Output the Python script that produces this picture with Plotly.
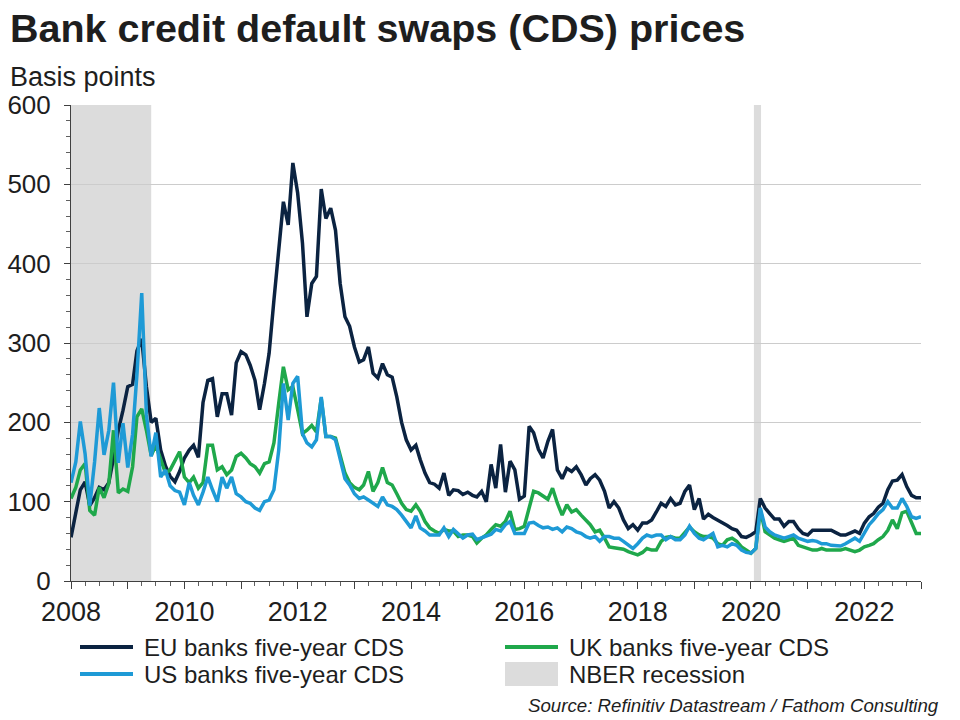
import pandas as pd
import plotly.graph_objects as go

# ---------------- data (monthly, Jan 2008 - Jan 2023, basis points) ----------------
start_month = "2008-01-01"

eu_cds = [
    55, 85, 115, 125, 95, 105, 118, 115, 124, 155, 190, 215, 245, 248, 290, 305, 245, 200, 205, 165,
    145, 132, 125, 138, 155, 165, 171, 156, 225, 253, 255, 207, 236, 236, 209, 275,
    289, 285, 272, 253, 216, 249, 287, 354, 417, 478, 449, 527, 489, 426, 333, 375, 384, 494, 457, 470,
    442, 375, 333, 321, 295, 276, 279, 295, 262, 256, 274, 260, 257, 232, 200,
    178, 165, 171, 153, 136, 124, 122, 117, 136, 108, 115, 114, 109, 112, 108, 106, 113, 100, 147, 117,
    172, 112, 151, 140, 103, 107, 195, 187, 166, 155, 176, 191, 140,
    129, 142, 138, 144, 134, 121, 129, 134, 127, 113, 92, 100, 92, 77, 66, 71, 64, 73, 73, 77,
    87, 98, 94, 104, 96, 98, 113, 121, 90, 104, 78, 84, 80, 77, 73, 70, 66,
    64, 56, 55, 58, 62, 104, 92, 85, 78, 78, 69, 75, 75, 66, 60, 58, 64, 64, 64, 64,
    64, 61, 58, 58, 60, 63, 60, 73, 81, 85, 93, 98, 115, 126, 127, 134, 119, 108, 105, 105,
]

uk_cds = [
    104, 118, 140, 148, 89, 83, 118, 105, 123, 190, 111, 116, 113, 144, 207, 217, 190, 158, 171, 152,
    136, 140, 152, 163, 131, 124, 131, 117, 124, 171, 171, 140, 144, 134, 140, 157,
    161, 155, 148, 144, 136, 148, 150, 174, 224, 270, 241, 245, 216, 186, 190, 196, 188, 230, 182, 182,
    180, 157, 136, 124, 118, 115, 121, 138, 113, 124, 143, 124, 121, 110, 98,
    90, 88, 96, 88, 75, 67, 63, 60, 65, 63, 63, 56, 58, 58, 56, 48, 54, 58, 65, 71,
    69, 75, 88, 65, 66, 69, 92, 113, 111, 107, 103, 117, 98,
    83, 96, 87, 90, 83, 77, 71, 62, 64, 54, 43, 42, 41, 40, 37, 35, 33, 36, 41, 39,
    39, 50, 55, 56, 54, 54, 62, 68, 62, 58, 56, 56, 54, 47, 45, 52, 54,
    50, 43, 39, 35, 41, 90, 62, 58, 54, 52, 50, 52, 54, 45, 43, 41, 39, 39, 41, 39,
    39, 38, 39, 41, 39, 37, 39, 43, 45, 47, 52, 56, 64, 77, 66, 86, 88, 75, 60, 60,
]

us_cds = [
    124, 150, 201, 160, 95, 150, 218, 159, 190, 250, 149, 199, 143, 185, 260, 363, 210, 157, 187, 131,
    140, 120, 114, 112, 96, 124, 108, 96, 112, 131, 115, 100, 131, 117, 131, 110,
    106, 100, 98, 92, 89, 100, 102, 115, 165, 249, 203, 249, 258, 186, 174, 169, 178, 232, 182, 182,
    178, 153, 129, 121, 110, 104, 106, 102, 98, 94, 106, 96, 94, 90, 83,
    75, 67, 82, 67, 63, 58, 58, 58, 67, 56, 65, 60, 54, 58, 59, 52, 54, 56, 59, 65,
    63, 71, 75, 60, 60, 60, 73, 74, 70, 67, 68, 65, 67,
    62, 68, 66, 62, 60, 56, 54, 56, 50, 56, 56, 54, 54, 50, 45, 41, 47, 54, 58, 56,
    58, 58, 52, 56, 52, 52, 58, 69, 60, 54, 52, 56, 60, 43, 45, 43, 47,
    45, 39, 36, 35, 41, 92, 68, 62, 58, 56, 54, 56, 58, 54, 52, 50, 51, 50, 47, 47,
    45, 44, 44, 47, 51, 54, 50, 60, 71, 77, 85, 90, 100, 92, 92, 104, 94, 81, 79, 81,
]

recession_starts = ["2007-12-01", "2020-01-20"]
recession_ends = ["2009-06-01", "2020-03-06"]

y_ticks = [0, 100, 200, 300, 400, 500, 600]
x_tick_years = list(range(2008, 2024))

series_names = ["EU banks five-year CDS", "UK banks five-year CDS", "US banks five-year CDS"]
recession_name = "NBER recession"
title_text = "Bank credit default swaps (CDS) prices"
unit_text = "Basis points"
source_text = "Source: Refinitiv Datastream / Fathom Consulting"

# ---------------- styling ----------------
FONT = "Liberation Sans, Arial, sans-serif"
TXT = "#1e1e1e"
C_EU = "#0b2341"
C_UK = "#1fa84b"
C_US = "#1e9ad6"
C_REC = "#dcdcdc"

W, H = 960, 720
ML, MR, MT, MB = 71, 39, 105, 139
PW = W - ML - MR
PH = H - MT - MB


def px_x(px):
    return (px - ML) / PW


def px_y(py):
    return (H - MB - py) / PH


months = pd.date_range(start_month, periods=len(eu_cds), freq="MS")

fig = go.Figure()

for x0, x1 in zip(recession_starts, recession_ends):
    fig.add_shape(type="rect", xref="x", yref="y", x0=x0, x1=x1, y0=0, y1=600,
                  fillcolor=C_REC, line_width=0, layer="below")

for name, vals, col in [(series_names[0], eu_cds, C_EU),
                        (series_names[1], uk_cds, C_UK),
                        (series_names[2], us_cds, C_US)]:
    fig.add_trace(go.Scatter(x=months[:len(vals)], y=vals, mode="lines", name=name,
                             line=dict(color=col, width=3.5), showlegend=False))

# ---------------- manual legend ----------------
legend_items = [
    (series_names[0], C_EU, "line", 80, 647),
    (series_names[1], C_UK, "line", 505, 647),
    (series_names[2], C_US, "line", 80, 674),
    (recession_name, C_REC, "box", 505, 674),
]
for label, col, kind, lx, ly in legend_items:
    if kind == "line":
        fig.add_shape(type="line", xref="paper", yref="paper",
                      x0=px_x(lx), x1=px_x(lx + 53), y0=px_y(ly), y1=px_y(ly),
                      line=dict(color=col, width=4))
    else:
        fig.add_shape(type="rect", xref="paper", yref="paper",
                      x0=px_x(lx), x1=px_x(lx + 53), y0=px_y(ly + 12), y1=px_y(ly - 12),
                      fillcolor=col, line_width=0)
    fig.add_annotation(text=label, xref="paper", yref="paper", x=px_x(lx + 62), y=px_y(ly),
                       xanchor="left", yanchor="middle", showarrow=False,
                       font=dict(family=FONT, size=24, color=TXT))

fig.add_annotation(text=unit_text, xref="paper", yref="paper", x=px_x(8), y=px_y(77),
                   xanchor="left", yanchor="middle", showarrow=False,
                   font=dict(family=FONT, size=27, color=TXT))

fig.add_annotation(text="<i>" + source_text + "</i>", xref="paper", yref="paper",
                   x=px_x(941), y=px_y(705), xanchor="right", yanchor="middle", showarrow=False,
                   font=dict(family=FONT, size=18.7, color=TXT))

fig.update_layout(
    width=W, height=H,
    margin=dict(l=ML, r=MR, t=MT, b=MB, autoexpand=False),
    paper_bgcolor="white", plot_bgcolor="white",
    font=dict(family=FONT, color=TXT),
    title=dict(text="<b>" + title_text + "</b>", x=10 / W, xanchor="left",
               xref="container", yref="container", y=1 - 28 / H, yanchor="middle",
               font=dict(family=FONT, size=39.5, color=TXT)),
    showlegend=False,
)

fig.update_xaxes(
    type="date", range=["2008-01-01", "2023-01-01"], automargin=False,
    tickmode="array",
    tickvals=[f"{y}-01-01" for y in x_tick_years],
    ticktext=[str(y) if y % 2 == 0 and y < 2023 else "" for y in x_tick_years],
    ticks="outside", ticklen=7, tickcolor="#404040", tickwidth=1,
    minor=dict(tickmode="linear", tick0="2008-01-01", dtick="M3", ticks="outside",
               ticklen=4, tickcolor="#606060", showgrid=False),
    showline=True, linecolor="#404040", linewidth=1,
    showgrid=False, zeroline=False,
    tickfont=dict(family=FONT, size=27, color=TXT),
)

fig.update_yaxes(
    range=[0, 600], tickmode="array", tickvals=y_ticks, automargin=False,
    ticks="outside", ticklen=6, tickcolor="#404040",
    minor=dict(tickmode="linear", tick0=0, dtick=20, ticks="outside", ticklen=4,
               tickcolor="#606060", showgrid=False),
    showline=True, linecolor="#404040", linewidth=1,
    showgrid=True, gridcolor="#cccccc", gridwidth=1, zeroline=False,
    tickfont=dict(family=FONT, size=26, color=TXT),
    ticklabelstandoff=8,
)

fig.write_html("out.html", config={"displayModeBar": False},
               post_script="document.body.style.margin='0px';document.body.style.padding='0px';")
